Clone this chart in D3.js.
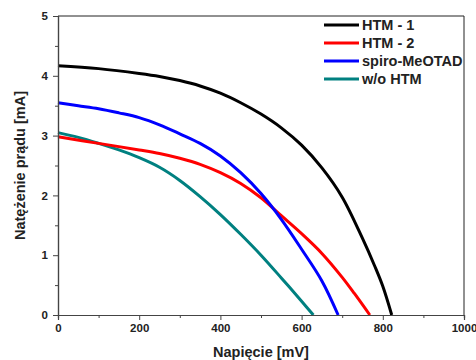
<!DOCTYPE html>
<html>
<head>
<meta charset="utf-8">
<script src="https://cdn.jsdelivr.net/npm/d3@7"></script>
<style>
  body { margin: 0; background: #fff; }
  svg text { font-family: "Liberation Sans", Arial, sans-serif; font-weight: bold; }
</style>
</head>
<body>
<div id="chart"></div>
<script>
// napięcie [mV] dla każdej krzywej i odpowiadające natężenie [mA]
const htm1V = [0, 100, 200, 250, 300, 350, 400, 450, 500, 550, 600, 650, 700, 750, 780, 800, 822];
const htm1I = [4.17, 4.12, 4.04, 3.99, 3.92, 3.83, 3.71, 3.55, 3.36, 3.13, 2.84, 2.46, 1.97, 1.28, 0.82, 0.48, 0];

const htm2V = [0, 100, 200, 250, 300, 350, 400, 450, 500, 550, 600, 650, 700, 730, 768];
const htm2I = [2.98, 2.87, 2.76, 2.7, 2.62, 2.52, 2.38, 2.2, 1.96, 1.66, 1.36, 1.03, 0.63, 0.36, 0];

const spiroV = [0, 50, 100, 150, 200, 250, 300, 350, 400, 450, 500, 550, 600, 650, 690];
const spiroI = [3.55, 3.5, 3.45, 3.38, 3.3, 3.18, 3.03, 2.87, 2.66, 2.38, 2.03, 1.6, 1.1, 0.57, 0];

const woV = [0, 50, 100, 150, 200, 250, 300, 350, 400, 450, 500, 550, 600, 629];
const woI = [3.05, 2.97, 2.87, 2.76, 2.63, 2.47, 2.25, 1.98, 1.68, 1.35, 1.0, 0.62, 0.23, 0];

const seriesNames = ["HTM - 1", "HTM - 2", "spiro-MeOTAD", "w/o HTM"];
const seriesColors = ["#000000", "#ff0000", "#0000ff", "#008080"];
const xTicks = [0, 200, 400, 600, 800, 1000];
const yTicks = [0, 1, 2, 3, 4, 5];

const series = [
    { name: seriesNames[0], v: htm1V, i: htm1I, color: seriesColors[0] },
    { name: seriesNames[1], v: htm2V, i: htm2I, color: seriesColors[1] },
    { name: seriesNames[2], v: spiroV, i: spiroI, color: seriesColors[2] },
    { name: seriesNames[3], v: woV, i: woI, color: seriesColors[3] }
];

const W = 476, H = 360;
const mLeft = 58, mRight = 464, mTop = 16, mBottom = 315;

const svg = d3.select("#chart").append("svg")
    .attr("width", W).attr("height", H);

const x = d3.scaleLinear().domain([0, 1000]).range([mLeft, mRight]);
const y = d3.scaleLinear().domain([0, 5]).range([mBottom, mTop]);

// ramka: górna i prawa krawędź
svg.append("line").attr("x1", mLeft).attr("x2", mRight).attr("y1", mTop).attr("y2", mTop)
    .attr("stroke", "#222").attr("stroke-width", 1);
svg.append("line").attr("x1", mRight).attr("x2", mRight).attr("y1", mTop).attr("y2", mBottom)
    .attr("stroke", "#222").attr("stroke-width", 1);

// linie danych
const line = d3.line()
    .x(d => x(d[0]))
    .y(d => y(d[1]))
    .curve(d3.curveCatmullRom.alpha(0.5));

const plot = svg.append("g");
// kolejność rysowania: teal, czerwona, niebieska, czarna
[3, 1, 2, 0].forEach(k => {
    const s = series[k];
    plot.append("path")
        .datum(s.v.map((v, j) => [v, s.i[j]]))
        .attr("fill", "none")
        .attr("stroke", s.color)
        .attr("stroke-width", 3)
        .attr("stroke-linejoin", "round")
        .attr("d", line);
});

// osie
const xAxis = svg.append("g")
    .attr("transform", `translate(0, ${mBottom})`)
    .call(d3.axisBottom(x).tickValues(xTicks).tickSize(5).tickPadding(4).tickFormat(d3.format("d")));
const xMinor = svg.append("g")
    .attr("transform", `translate(0, ${mBottom})`)
    .call(d3.axisBottom(x).tickValues([100, 300, 500, 700, 900]).tickSize(3).tickFormat(""));

const yAxis = svg.append("g")
    .attr("transform", `translate(${mLeft}, 0)`)
    .call(d3.axisLeft(y).tickValues(yTicks).tickSize(5).tickPadding(5).tickFormat(d3.format("d")));
const yMinor = svg.append("g")
    .attr("transform", `translate(${mLeft}, 0)`)
    .call(d3.axisLeft(y).tickValues([0.5, 1.5, 2.5, 3.5, 4.5]).tickSize(3).tickFormat(""));

[xAxis, xMinor, yAxis, yMinor].forEach(g => {
    g.selectAll(".domain").attr("stroke", "#444").attr("stroke-width", 1.2);
    g.selectAll(".tick line").attr("stroke", "#444");
    g.selectAll(".tick text").attr("font-size", 11.5).attr("fill", "#222")
        .attr("font-family", "Liberation Sans, Arial, sans-serif").attr("font-weight", "bold");
});

// tytuły osi
svg.append("text")
    .attr("x", 261).attr("y", 357)
    .attr("text-anchor", "middle")
    .attr("font-size", 14.5).attr("fill", "#222")
    .text("Napięcie [mV]");

svg.append("text")
    .attr("transform", `translate(25, ${(mTop + mBottom) / 2}) rotate(-90)`)
    .attr("text-anchor", "middle")
    .attr("font-size", 14.5).attr("fill", "#222")
    .text("Natężenie prądu [mA]");

// legenda
const legend = svg.append("g").attr("transform", "translate(324, 25)");
series.forEach((s, k) => {
    const row = legend.append("g").attr("transform", `translate(0, ${k * 18})`);
    row.append("line").attr("x1", 0).attr("x2", 35).attr("y1", 0).attr("y2", 0)
        .attr("stroke", s.color).attr("stroke-width", 3);
    row.append("text").attr("x", 38).attr("y", 5)
        .attr("font-size", 14.5).attr("fill", "#222")
        .text(s.name);
});
</script>
</body>
</html>
